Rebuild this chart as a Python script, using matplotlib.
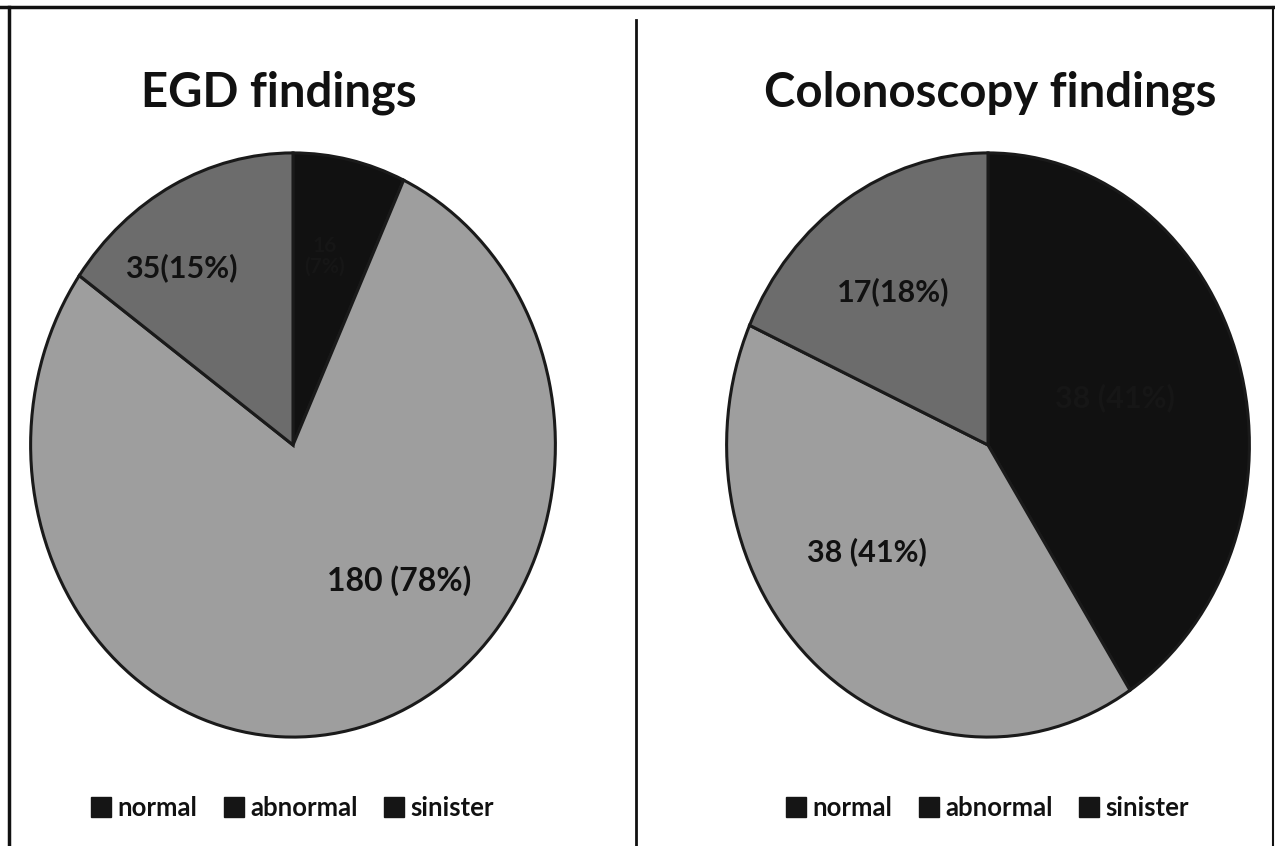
import matplotlib
matplotlib.use("Agg")
import matplotlib.pyplot as plt
from matplotlib.lines import Line2D

# ---- data ----
categories = ["normal", "abnormal", "sinister"]
egd_values = [16, 180, 35]
egd_labels = ["16\n(7%)", "180 (78%)", "35(15%)"]
colon_values = [38, 38, 17]
colon_labels = ["38 (41%)", "38 (41%)", "17(18%)"]
titles = ["EGD findings", "Colonoscopy findings"]

# ---- style ----
slice_colors = ["#111111", "#9e9e9e", "#6c6c6c"]
label_colors = ["#161616", "#111111", "#111111"]
FONT = "Lato"
W, H = 1275, 846

# label placement (x, y in axes-fraction space of each pie box)
egd_label_pos = [(0.56, 0.82), (0.70, 0.27), (0.29, 0.80)]
colon_label_pos = [(0.74, 0.58), (0.27, 0.32), (0.32, 0.76)]
egd_label_sizes = [15, 23, 22]
colon_label_sizes = [22, 22, 22]
title_centers = [279, 990]

fig = plt.figure(figsize=(W / 100, H / 100), dpi=100)
fig.patch.set_facecolor("white")


def px_axes(x0, y0, x1, y1):
    return fig.add_axes([x0 / W, 1 - y1 / H, (x1 - x0) / W, (y1 - y0) / H])


panels = [
    (px_axes(28, 150, 558, 740), egd_values, egd_labels, egd_label_pos, egd_label_sizes, 293),
    (px_axes(724, 150, 1252, 740), colon_values, colon_labels, colon_label_pos, colon_label_sizes, 988),
]

for i, (ax, vals, labs, pos, sizes, cx) in enumerate(panels):
    wedges, _ = ax.pie(
        vals,
        colors=slice_colors,
        startangle=90,
        counterclock=False,
        radius=1.0,
        wedgeprops=dict(edgecolor="#1a1a1a", linewidth=2.2),
    )
    ax.set_aspect("auto")
    ax.set_xlim(-1.01, 1.01)
    ax.set_ylim(-1.01, 1.01)
    ax.axis("off")
    for j, (lab, (lx, ly)) in enumerate(zip(labs, pos)):
        ax.text(lx, ly, lab, transform=ax.transAxes, ha="center", va="center",
                fontsize=sizes[j], fontweight="bold", family=FONT,
                color=label_colors[j], linespacing=1.0)
    # title
    fig.text(title_centers[i] / W, 1 - 93 / H, titles[i], ha="center", va="center",
             fontsize=34, fontweight="bold", family=FONT, color="#111111")
    # legend
    handles = [Line2D([], [], marker="s", linestyle="none", markersize=14,
                      markerfacecolor="#151515", markeredgecolor="#151515")
               for _ in categories]
    leg = fig.legend(handles, categories, loc="center",
                     bbox_to_anchor=(cx / W, 1 - 808 / H), ncol=3, frameon=False,
                     handlelength=0.7, handletextpad=0.3, columnspacing=1.05,
                     prop=dict(family=FONT, size=18.5, weight="bold"))
    for t in leg.get_texts():
        t.set_color("#111111")

# frame lines: top, left, right, divider
fig.add_artist(Line2D([0, 1], [1 - 7 / H, 1 - 7 / H], color="#111111", linewidth=2.5,
                      transform=fig.transFigure))
fig.add_artist(Line2D([9 / W, 9 / W], [0, 1 - 7 / H], color="#111111", linewidth=2.5,
                      transform=fig.transFigure))
fig.add_artist(Line2D([1273 / W, 1273 / W], [0, 1 - 7 / H], color="#111111", linewidth=1.5,
                      transform=fig.transFigure))
fig.add_artist(Line2D([636 / W, 636 / W], [0, 1 - 20 / H], color="#111111", linewidth=2.0,
                      transform=fig.transFigure))

fig.savefig("out.png", dpi=100, facecolor="white")
